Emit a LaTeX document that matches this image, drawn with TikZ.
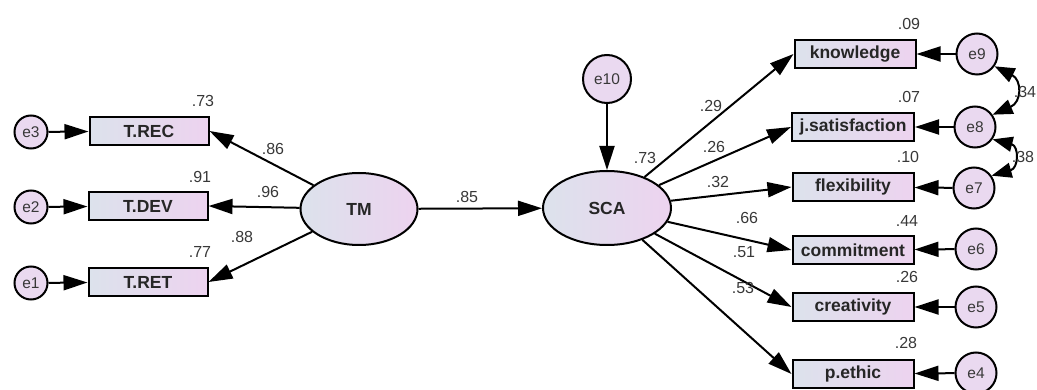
\documentclass[tikz,border=0pt]{standalone}
\usepackage{fontspec}
\setmainfont{Liberation Sans}
\usetikzlibrary{arrows.meta,shapes.geometric}
\definecolor{gL}{HTML}{DCE2EC}
\definecolor{gR}{HTML}{EDD3EF}
\definecolor{cf}{HTML}{EAD9F0}
\definecolor{txt}{HTML}{383838}
\begin{document}
\begin{tikzpicture}[x=1pt,y=-1pt,
  obs/.style={draw=black, line width=2pt, left color=gL, right color=gR, minimum height=28pt, minimum width=119pt, inner sep=0pt, font=\fontsize{17.5}{17.5}\selectfont\bfseries, text=black!85},
  lat/.style={ellipse, draw=black, line width=2pt, left color=gL, right color=gR, inner sep=0pt, font=\fontsize{17.5}{17.5}\selectfont\bfseries, text=black!85},
  err/.style={circle, draw=black, line width=2pt, fill=cf, inner sep=0pt, font=\fontsize{15.5}{15.5}\selectfont, text=txt},
  lbl/.style={font=\fontsize{16}{16}\selectfont, text=txt, inner sep=0pt},
  arr/.style={-{Triangle[length=24pt,width=15pt]}, line width=2pt},
  cov/.style={{Triangle[length=20pt,width=15pt]}-{Triangle[length=20pt,width=15pt]}, line width=2pt}
]
\useasboundingbox (0,0) rectangle (1037,390);
% left indicators
\node[obs] (TREC) at (149,131) {T.REC};
\node[obs] (TDEV) at (148,206) {T.DEV};
\node[obs] (TRET) at (148,282) {T.RET};
\node[err, minimum size=33pt] (e3) at (31,132) {e3};
\node[err, minimum size=33pt] (e2) at (31,207) {e2};
\node[err, minimum size=33pt] (e1) at (31,283) {e1};
% latents
\node[lat, minimum width=117pt, minimum height=72pt] (TM) at (359,209) {TM};
\node[lat, minimum width=128pt, minimum height=74pt] (SCA) at (607,208) {SCA};
\node[err, minimum size=48pt] (e10) at (607,79) {e10};
% right indicators
\node[obs, minimum width=121pt] (know) at (855,54) {knowledge};
\node[obs, minimum width=122pt] (jsat) at (853,127) {j.satisfaction};
\node[obs, minimum width=121pt] (flex) at (853,187) {flexibility};
\node[obs, minimum width=121pt] (comm) at (853,250) {commitment};
\node[obs, minimum width=121pt] (crea) at (853,307) {creativity};
\node[obs, minimum width=121pt] (peth) at (853,374) {p.ethic};
\node[err, minimum size=41pt] (e9) at (977,54) {e9};
\node[err, minimum size=41pt] (e8) at (975,127) {e8};
\node[err, minimum size=41pt] (e7) at (974,188) {e7};
\node[err, minimum size=41pt] (e6) at (976,249) {e6};
\node[err, minimum size=41pt] (e5) at (976,307) {e5};
\node[err, minimum size=41pt] (e4) at (976,373) {e4};
% arrows left
\draw[arr] (e3) -- (TREC);
\draw[arr] (e2) -- (TDEV);
\draw[arr] (e1) -- (TRET);
\draw[arr] (TM) -- (TREC.east);
\draw[arr] (TM) -- (TDEV.east);
\draw[arr] (TM) -- (TRET.east);
\draw[arr] (TM) -- (SCA);
\draw[arr] (e10) -- (SCA);
% arrows right
\draw[arr] (SCA) -- (know.west);
\draw[arr] (SCA) -- (jsat.west);
\draw[arr] (SCA) -- (flex.west);
\draw[arr] (SCA) -- (comm.west);
\draw[arr] (SCA) -- (crea.west);
\draw[arr] (SCA) -- (peth.west);
\draw[arr] (e9) -- (know);
\draw[arr] (e8) -- (jsat);
\draw[arr] (e7) -- (flex);
\draw[arr] (e6) -- (comm);
\draw[arr] (e5) -- (crea);
\draw[arr] (e4) -- (peth);
% covariances
\draw[cov] (e9.-35) .. controls (1022,80) and (1022,102) .. (e8.35);
\draw[cov] (e8.-35) .. controls (1019,146) and (1019,168) .. (e7.35);
% labels
\node[lbl] (l1) at (203,101) {.73};
\node[lbl] (l2) at (200,177) {.91};
\node[lbl] (l3) at (200,252) {.77};
\node[lbl] (l4) at (273,149) {.86};
\node[lbl] (l5) at (268,192) {.96};
\node[lbl] (l6) at (242,237) {.88};
\node[lbl] (l7) at (467,197) {.85};
\node[lbl] (l8) at (645,158) {.73};
\node[lbl] (l9) at (711,106) {.29};
\node[lbl] (l10) at (714,147) {.26};
\node[lbl] (l11) at (718,182) {.32};
\node[lbl] (l12) at (747,218) {.66};
\node[lbl] (l13) at (744,252) {.51};
\node[lbl] (l14) at (743,288) {.53};
\node[lbl] (l15) at (909,24) {.09};
\node[lbl] (l16) at (909,97) {.07};
\node[lbl] (l17) at (908,157) {.10};
\node[lbl] (l18) at (907,221) {.44};
\node[lbl] (l19) at (907,277) {.26};
\node[lbl] (l20) at (906,343) {.28};
\node[lbl] (l21) at (1025,92) {.34};
\node[lbl] (l22) at (1023,157) {.38};
\end{tikzpicture}
\end{document}
